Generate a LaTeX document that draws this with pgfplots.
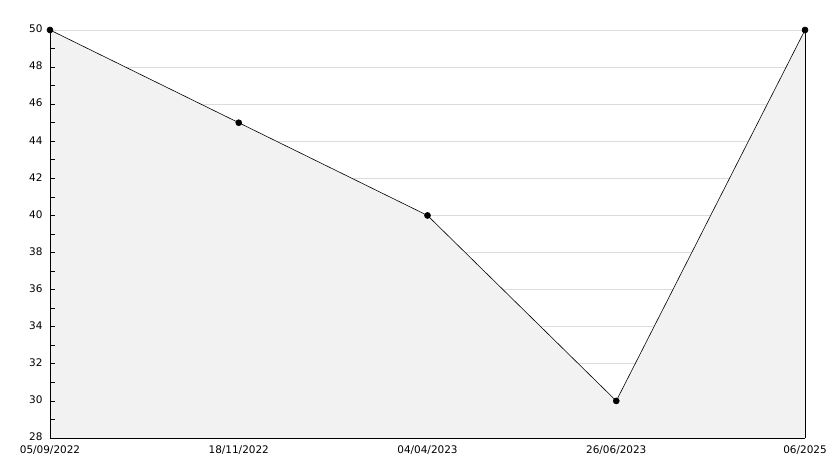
\documentclass[border=0pt]{standalone}
\usepackage{pgfplots}
\pgfplotsset{compat=1.18}
\usepackage{fontspec}
\setmainfont{DejaVu Sans}
\definecolor{areafill}{HTML}{F2F2F2}
\definecolor{gridc}{HTML}{DCDCDC}
\begin{document}
\begin{tikzpicture}
\begin{axis}[
  scale only axis,
  width=755bp, height=408bp,
  xmin=0, xmax=4, ymin=28, ymax=50,
  axis lines=left,
  axis line style={black, -},
  xtick={0,1,2,3,4},
  xticklabels={05/09/2022,18/11/2022,04/04/2023,26/06/2023,06/2025},
  ytick={28,30,...,50},
  ymajorgrids,
  grid style={gridc, line width=0.8pt},
  major grid style={gridc},
  major tick length=0pt,
  tick label style={font=\fontsize{10.5}{11}\selectfont},
  /pgf/number format/assume math mode=true,
  xticklabel style={yshift=-4bp},
  yticklabel style={xshift=-4bp, yshift=1bp},
  clip=false,
  axis on top=false,
]
\addplot[draw=none, fill=areafill] coordinates {(0,50)(1,45)(2,40)(3,30)(4,50)} \closedcycle;
\addplot[black, line width=0.6pt, mark=*, mark size=3bp, mark options={fill=black}] coordinates {(0,50)(1,45)(2,40)(3,30)(4,50)};
\addplot[black, line width=0.8pt] coordinates {(4,28)(4,50)};
\draw[black, line width=0.8pt] (rel axis cs:0,0) -- (rel axis cs:0,1);
\draw[black, line width=0.8pt] (rel axis cs:0,0) -- (rel axis cs:1,0);
\pgfplotsinvokeforeach{29,30,...,49}{
  \draw[black, line width=0.8pt] (axis cs:0,#1) -- ([xshift=5bp]axis cs:0,#1);
}
\useasboundingbox (rel axis cs:-0.066225,-0.073529) rectangle (rel axis cs:1.038411,1.073529);
\end{axis}
\end{tikzpicture}
\end{document}
